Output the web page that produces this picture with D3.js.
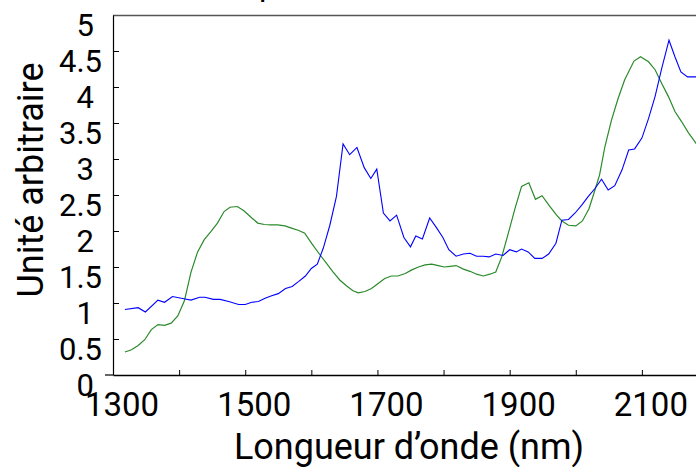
<!DOCTYPE html>
<html>
<head>
<meta charset="utf-8">
<script src="https://cdn.jsdelivr.net/npm/d3@7"></script>
<style>
  html, body { margin: 0; padding: 0; background: #fff; }
  svg { display: block; }
  text { font-family: Roboto, "Noto Sans", sans-serif; fill: #000; }
</style>
</head>
<body>
<svg id="chart" width="696" height="467"></svg>
<script>
// ---- Data ----
const blueWavelengths = [1318,1338,1349,1368,1378,1390,1409,1418,1431,1439,1452,1462,1475,1490,1500,1510,1520,1530,1540,1550,1561,1571,1581,1591,1600,1609,1618,1628,1638,1648,1658,1669,1680,1690,1699,1709,1719,1729,1740,1750,1758,1768,1779,1789,1799,1808,1819,1830,1840,1850,1860,1869,1879,1890,1900,1910,1918,1928,1938,1949,1959,1970,1979,1989,1999,2009,2019,2029,2039,2049,2059,2070,2080,2089,2100,2110,2120,2130,2141,2150,2159,2169,2185];
const blueValues = [0.91,0.935,0.875,1.04,1.01,1.09,1.055,1.04,1.08,1.08,1.05,1.05,1.02,0.98,0.98,1.01,1.02,1.065,1.10,1.13,1.20,1.23,1.30,1.375,1.48,1.54,1.76,2.08,2.48,3.21,3.06,3.16,2.88,2.73,2.86,2.25,2.14,2.22,1.91,1.78,1.93,1.89,2.18,2.05,1.91,1.74,1.65,1.68,1.69,1.65,1.65,1.64,1.68,1.66,1.74,1.71,1.75,1.71,1.62,1.62,1.68,1.83,2.15,2.16,2.25,2.36,2.48,2.59,2.72,2.57,2.63,2.85,3.125,3.14,3.29,3.56,3.87,4.26,4.65,4.42,4.21,4.14,4.14];

const greenWavelengths = [1318,1328,1338,1348,1358,1368,1378,1388,1398,1408,1418,1428,1438,1448,1458,1468,1477,1488,1498,1510,1519,1529,1539,1549,1560,1570,1580,1590,1601,1613,1623,1633,1643,1653,1663,1671,1681,1691,1701,1711,1721,1731,1742,1752,1762,1772,1782,1792,1801,1810,1819,1830,1840,1850,1860,1870,1879,1888,1898,1908,1918,1929,1939,1949,1961,1971,1979,1989,2000,2010,2020,2029,2036,2044,2054,2064,2074,2088,2098,2110,2120,2130,2140,2150,2160,2170,2185];
const greenValues = [0.32,0.35,0.41,0.49,0.63,0.70,0.69,0.72,0.82,1.03,1.43,1.71,1.88,1.99,2.11,2.27,2.33,2.34,2.28,2.18,2.11,2.09,2.085,2.085,2.07,2.04,2.01,1.97,1.82,1.67,1.55,1.43,1.32,1.24,1.17,1.14,1.16,1.20,1.27,1.34,1.375,1.375,1.41,1.46,1.50,1.53,1.54,1.52,1.50,1.51,1.52,1.47,1.44,1.40,1.375,1.40,1.43,1.64,1.97,2.31,2.62,2.67,2.44,2.49,2.34,2.22,2.14,2.08,2.07,2.14,2.31,2.57,2.78,3.17,3.54,3.84,4.10,4.36,4.42,4.35,4.24,4.05,3.87,3.66,3.52,3.37,3.18];

const xTickValues = [1300,1400,1500,1600,1700,1800,1900,2000,2100,2200];
const xTickLabels = ["1300","1500","1700","1900","2100"];
const yTickValues = [0,0.5,1,1.5,2,2.5,3,3.5,4,4.5,5];
const yTickLabels = ["0","0.5","1","1.5","2","2.5","3","3.5","4","4.5","5"];

const xTitle = "Longueur d’onde (nm)";
const yTitle = "Unité arbitraire";
const chartTitle = "Spectres";

const colorBlue = "#0000ff";
const colorGreen = "#2a8a2a";

// ---- Layout ----
const svg = d3.select("#chart");
const x = d3.scaleLinear().domain([1300, 2200]).range([113, 708]);
const y = d3.scaleLinear().domain([0, 5]).range([375, 15]);

svg.append("clipPath").attr("id", "plotclip")
  .append("rect").attr("x", 113).attr("y", 15).attr("width", 600).attr("height", 360);

// title (mostly outside the viewport in the reference)
svg.append("text").attr("x", 240).attr("y", -4)
  .attr("font-size", 32).text(chartTitle);

// top border
svg.append("line").attr("x1", 113).attr("x2", 696).attr("y1", 15.5).attr("y2", 15.5)
  .attr("stroke", "#555").attr("stroke-width", 1.5);

// Lines
const line = d3.line().x(d => x(d[0])).y(d => y(d[1]));
const blueData = blueWavelengths.map((w, i) => [w, blueValues[i]]);
const greenData = greenWavelengths.map((w, i) => [w, greenValues[i]]);

const g = svg.append("g").attr("clip-path", "url(#plotclip)");
g.append("path").datum(greenData).attr("d", line)
  .attr("fill", "none").attr("stroke", colorGreen).attr("stroke-width", 1.2);
g.append("path").datum(blueData).attr("d", line)
  .attr("fill", "none").attr("stroke", colorBlue).attr("stroke-width", 1.1);

// X axis (ticks inward)
const xAxis = d3.axisBottom(x).tickValues(xTickValues).tickSizeInner(-5).tickSizeOuter(0).tickFormat("");
const xg = svg.append("g").attr("transform", "translate(0,375)").call(xAxis);
xg.select(".domain").attr("stroke", "#000").attr("stroke-width", 1.5);
xg.selectAll(".tick line").attr("stroke", "#000");
svg.append("g").selectAll("text").data(xTickLabels).join("text")
  .attr("x", d => x(+d) + 9).attr("y", 416)
  .attr("text-anchor", "middle").attr("font-size", 33).text(d => d);

// Y axis (ticks inward)
const yAxis = d3.axisLeft(y).tickValues(yTickValues.filter(v => v > 0 && v < 5)).tickSizeInner(-6).tickSizeOuter(0).tickFormat("");
const yg = svg.append("g").attr("transform", "translate(113,0)").call(yAxis);
yg.select(".domain").attr("stroke", "#000").attr("stroke-width", 1.2);
yg.selectAll(".tick line").attr("stroke", "#000");
svg.append("line").attr("x1", 105).attr("x2", 113).attr("y1", y(0)).attr("y2", y(0))
  .attr("stroke", "#000").attr("stroke-width", 1.2);
svg.append("g").selectAll("text").data(yTickLabels).join("text")
  .attr("x", d => d.includes(".") ? 102 : 94)
  .attr("y", d => y(+d) + 21)
  .attr("text-anchor", "end").attr("font-size", 31).text(d => d);

// Axis titles
svg.append("text").attr("x", 409).attr("y", 459)
  .attr("text-anchor", "middle").attr("font-size", 36).text(xTitle);
svg.append("text").attr("transform", "translate(43,180) rotate(-90)")
  .attr("text-anchor", "middle").attr("font-size", 36).text(yTitle);
</script>
</body>
</html>
